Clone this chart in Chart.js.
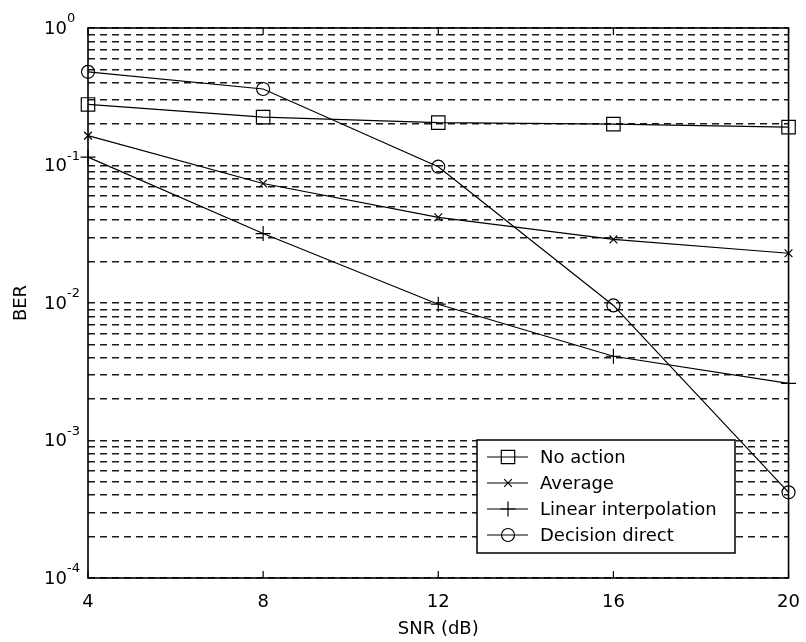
<!DOCTYPE html>
<html>
<head>
<meta charset="utf-8">
<script src="https://cdn.jsdelivr.net/npm/chart.js@4/dist/chart.umd.min.js"></script>
<style>
  html, body { margin: 0; padding: 0; background: #fff; }
</style>
</head>
<body>
<canvas id="ber-chart" width="806" height="642"></canvas>
<script>
// values
var snr = [4, 8, 12, 16, 20];
var noAction = [0.278, 0.225, 0.205, 0.200, 0.190];
var average = [0.165, 0.074, 0.042, 0.029, 0.023];
var linearInterp = [0.115, 0.032, 0.0098, 0.0041, 0.0026];
var decisionDirect = [0.48, 0.36, 0.098, 0.0096, 0.00042];

var seriesNames = ["No action", "Average", "Linear interpolation", "Decision direct"];
var seriesMarks = ["rect", "crossRot", "cross", "circle"];
var markSizes = [9.5, 5.5, 7.5, 6.5];

var xTicks = [4, 8, 12, 16, 20];
var yDecades = [1, 0.1, 0.01, 0.001, 0.0001];
var yExponents = ["0", "-1", "-2", "-3", "-4"];

var FONT = "'DejaVu Sans', sans-serif";

// minor log grid: 1..9 x 10^k
var yGrid = [1];
yDecades.slice(1).forEach(function (d) {
  for (var s = 1; s <= 9; s++) yGrid.push(s * d);
});

function pts(arr) {
  return snr.map(function (x, i) { return { x: x, y: arr[i] }; });
}

function mkSet(i, arr) {
  return {
    label: seriesNames[i],
    data: pts(arr),
    borderColor: "#000",
    borderWidth: 1.2,
    pointStyle: seriesMarks[i],
    pointRadius: markSizes[i],
    pointBorderWidth: 1.2,
    pointBorderColor: "#000",
    pointBackgroundColor: "rgba(0,0,0,0)",
    fill: false,
    tension: 0,
    clip: 12
  };
}

function mark(ctx, style, r, x, y) {
  ctx.beginPath();
  if (style === "rect") {
    var h = r * Math.SQRT1_2;
    ctx.rect(x - h, y - h, 2 * h, 2 * h);
  } else if (style === "circle") {
    ctx.arc(x, y, r, 0, Math.PI * 2);
  } else if (style === "cross") {
    ctx.moveTo(x - r, y); ctx.lineTo(x + r, y);
    ctx.moveTo(x, y - r); ctx.lineTo(x, y + r);
  } else {
    var o = r * Math.SQRT1_2;
    ctx.moveTo(x - o, y - o); ctx.lineTo(x + o, y + o);
    ctx.moveTo(x - o, y + o); ctx.lineTo(x + o, y - o);
  }
  ctx.stroke();
}

var framePlugin = {
  id: "frame",
  beforeDatasetsDraw: function (chart) {
    var ctx = chart.ctx, a = chart.chartArea;
    var xs = chart.scales.x, ys = chart.scales.y;
    ctx.save();
    ctx.setLineDash([]);
    ctx.strokeStyle = "#000";
    ctx.lineWidth = 1.6;
    ctx.strokeRect(a.left, a.top, a.right - a.left, a.bottom - a.top);
    ctx.lineWidth = 1.2;
    ctx.beginPath();
    xTicks.forEach(function (v) {
      var px = xs.getPixelForValue(v);
      ctx.moveTo(px, a.bottom); ctx.lineTo(px, a.bottom - 7);
      ctx.moveTo(px, a.top); ctx.lineTo(px, a.top + 7);
    });
    ctx.stroke();
    // y labels 10^k
    ctx.fillStyle = "#000";
    ctx.textAlign = "left";
    ctx.textBaseline = "middle";
    yDecades.forEach(function (d, i) {
      var py = ys.getPixelForValue(d);
      ctx.font = "18px " + FONT;
      ctx.fillText("10", 44, py + 1);
      ctx.font = "13px " + FONT;
      ctx.fillText(yExponents[i], 67, py - 9);
    });
    ctx.restore();
  },
  afterDatasetsDraw: function (chart) {
    var ctx = chart.ctx;
    var bx = 477, by = 440, bw = 258, bh = 113;
    var rows = [457, 483, 509, 535];
    ctx.save();
    ctx.setLineDash([]);
    ctx.fillStyle = "#fff";
    ctx.fillRect(bx, by, bw, bh);
    ctx.strokeStyle = "#000";
    ctx.lineWidth = 1.5;
    ctx.strokeRect(bx, by, bw, bh);
    ctx.lineWidth = 1.2;
    ctx.font = "18px " + FONT;
    ctx.fillStyle = "#000";
    ctx.textBaseline = "middle";
    ctx.textAlign = "left";
    seriesNames.forEach(function (name, i) {
      var y = rows[i];
      ctx.beginPath();
      ctx.moveTo(487, y); ctx.lineTo(528, y);
      ctx.stroke();
      mark(ctx, seriesMarks[i], markSizes[i], 508, y);
      ctx.fillText(name, 540, y + 1);
    });
    ctx.restore();
  }
};

new Chart(document.getElementById("ber-chart"), {
  type: "line",
  data: {
    datasets: [
      mkSet(0, noAction),
      mkSet(1, average),
      mkSet(2, linearInterp),
      mkSet(3, decisionDirect)
    ]
  },
  plugins: [framePlugin],
  options: {
    responsive: false,
    animation: false,
    layout: { padding: { top: 28, right: 14, left: 0, bottom: 0 } },
    plugins: {
      legend: { display: false },
      tooltip: { enabled: false }
    },
    scales: {
      x: {
        type: "linear",
        min: 4,
        max: 20,
        afterBuildTicks: function (s) {
          s.ticks = xTicks.map(function (v) { return { value: v }; });
        },
        afterFit: function (s) { s.height = 64; },
        grid: { display: false },
        border: { display: false },
        ticks: {
          color: "#000",
          font: { family: FONT, size: 18 },
          padding: 6,
          maxRotation: 0
        },
        title: {
          display: true,
          text: "SNR (dB)",
          color: "#000",
          font: { family: FONT, size: 18 },
          padding: { top: 0, bottom: 2 }
        }
      },
      y: {
        type: "logarithmic",
        min: 0.0001,
        max: 1,
        afterBuildTicks: function (s) {
          s.ticks = yGrid.map(function (v) { return { value: v }; });
        },
        afterFit: function (s) { s.width = 88; },
        grid: {
          color: "#1a1a1a",
          lineWidth: 1.5,
          drawTicks: false
        },
        border: { display: false, dash: [7, 5] },
        ticks: { display: false },
        title: {
          display: true,
          text: "BER",
          color: "#000",
          font: { family: FONT, size: 18 },
          padding: { top: 11, bottom: 0 }
        }
      }
    }
  }
});
</script>
</body>
</html>
